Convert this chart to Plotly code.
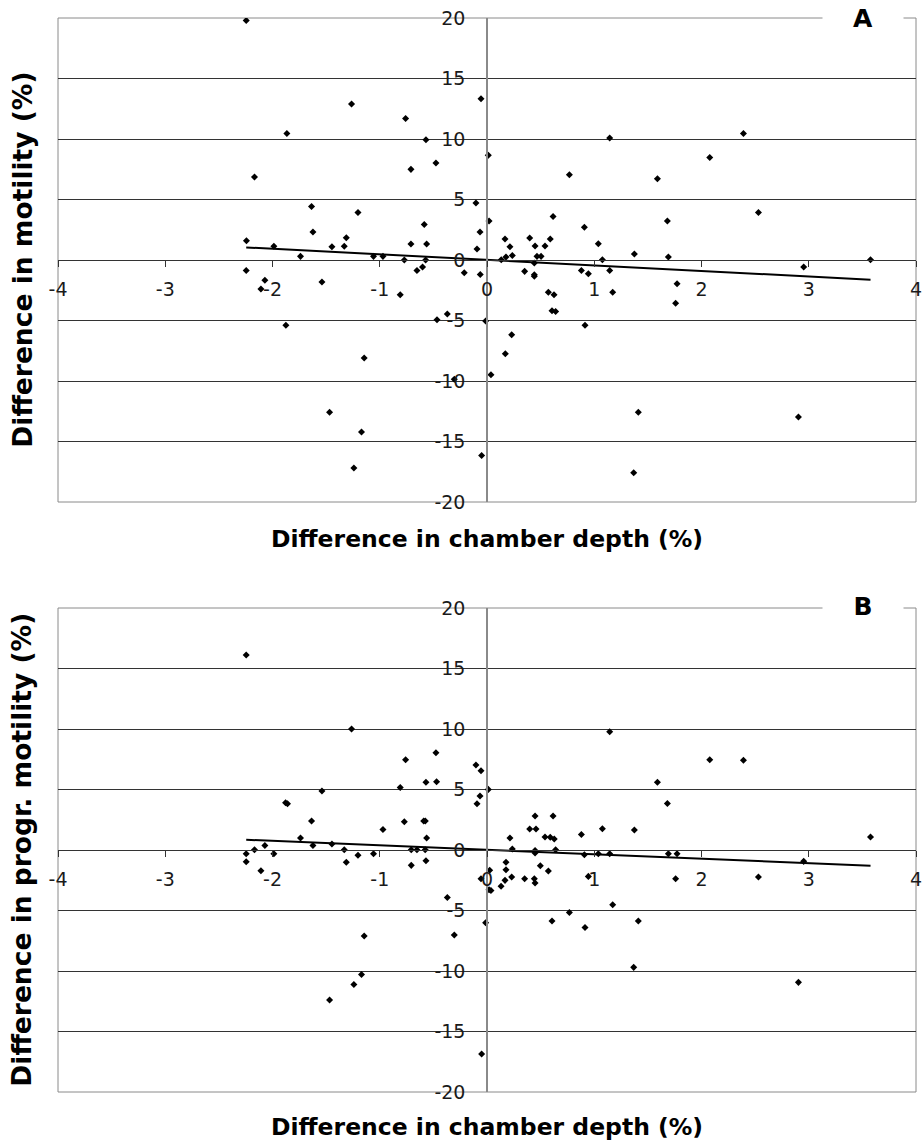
import plotly.graph_objects as go

# ---------------- data ----------------
a_x = [-2.245, -1.263, -1.866, -0.759, -0.569, -0.056, 0.012, -0.709, -0.476, -2.168,
       -1.636, -1.203, -0.103, 0.019, -0.585, -1.623, -0.065, -1.312, -2.243, -0.709,
       -0.563, -1.987, -1.446, -1.331, -0.093, -1.739, -1.058, -0.970, -0.771, -0.572,
       -2.245, -2.071, -2.108, -1.539, -0.809, -0.653, -0.601, -0.212, -0.063, -1.875,
       -0.466, -0.370, -0.013, -1.145, -0.305, 0.037, -1.468, -1.170, -1.241, -0.050,
       1.144, 2.391, 0.768, 2.077, 1.589, 2.531, 0.616, 1.682, 0.908, 0.168,
       0.398, 0.214, 0.448, 0.541, 0.590, 1.038, 1.374, 0.236, 1.691, 0.133,
       0.177, 0.466, 0.504, 0.441, 1.076, 3.576, 0.351, 0.441, 0.441, 0.880,
       0.945, 1.144, 2.953, 1.772, 1.759, 1.172, 0.572, 0.625, 0.606, 0.640,
       0.914, 0.230, 0.171, 1.411, 2.904, 1.368]
a_y = [19.8, 12.89, 10.46, 11.70, 9.94, 13.33, 8.65, 7.49, 8.02, 6.86,
       4.43, 3.93, 4.71, 3.22, 2.94, 2.31, 2.31, 1.84, 1.60, 1.32,
       1.32, 1.13, 1.10, 1.13, 0.91, 0.30, 0.30, 0.30, 0.0, 0.0,
       -0.86, -1.68, -2.40, -1.82, -2.87, -0.86, -0.58, -1.05, -1.19, -5.40,
       -4.93, -4.46, -5.04, -8.10, -9.86, -9.48, -12.59, -14.22, -17.19, -16.15,
       10.08, 10.46, 7.05, 8.48, 6.72, 3.93, 3.60, 3.22, 2.70, 1.73,
       1.82, 1.10, 1.15, 1.15, 1.73, 1.35, 0.49, 0.38, 0.25, 0.02,
       0.25, 0.30, 0.30, -0.25, 0.02, 0.02, -0.94, -1.21, -1.35, -0.86,
       -1.13, -0.86, -0.58, -1.96, -3.58, -2.67, -2.67, -2.87, -4.19, -4.25,
       -5.40, -6.17, -7.74, -12.59, -12.98, -17.58]

b_x = [-2.245, -1.263, -0.759, -0.476, -0.103, -0.056, 0.012, -0.809, -0.569, -0.470,
       -1.539, -0.065, -0.093, -1.878, -1.860, -1.636, -0.771, -0.590, -0.575, -0.970,
       -1.739, -0.563, -1.623, -1.446, -2.071, -2.168, -1.331, -2.245, -2.245, -1.987,
       -2.108, -1.312, -1.203, -1.058, -0.706, -0.653, -0.576, -0.706, -0.569, -0.056,
       0.019, -0.370, -0.013, -0.305, -1.145, -1.170, -1.241, -1.468, -0.050,
       1.144, 2.077, 2.391, 1.589, 1.682, 0.448, 0.616, 0.398, 0.457, 1.076,
       1.374, 0.880, 0.214, 0.541, 0.590, 0.627, 3.576, 0.236, 0.448, 0.448,
       0.640, 0.908, 1.038, 1.144, 1.691, 1.772, 2.953, 0.025, 0.037, 0.131,
       0.168, 0.177, 0.177, 0.230, 0.351, 0.441, 0.448, 0.497, 0.572, 0.945,
       1.759, 2.531, 1.172, 0.768, 0.606, 1.411, 0.914, 1.368, 2.904]
b_y = [16.11, 10.0, 7.46, 8.04, 7.02, 6.55, 5.01, 5.17, 5.59, 5.64,
       4.87, 4.46, 3.83, 3.90, 3.82, 2.40, 2.34, 2.40, 2.40, 1.70,
       0.99, 0.99, 0.38, 0.50, 0.38, 0.02, 0.02, -0.31, -0.97, -0.31,
       -1.71, -1.02, -0.44, -0.31, 0.02, 0.02, 0.02, -1.27, -0.88, -2.37,
       -3.28, -3.92, -6.01, -7.03, -7.11, -10.28, -11.11, -12.40, -16.86,
       9.78, 7.46, 7.41, 5.59, 3.85, 2.81, 2.81, 1.73, 1.73, 1.76,
       1.65, 1.29, 0.99, 1.07, 1.05, 0.91, 1.07, 0.08, -0.05, -0.25,
       0.02, -0.39, -0.31, -0.31, -0.31, -0.31, -0.94, -1.68, -3.34, -3.0,
       -2.51, -1.02, -1.63, -2.23, -2.37, -2.37, -2.73, -1.30, -1.74, -2.18,
       -2.37, -2.23, -4.52, -5.16, -5.87, -5.87, -6.40, -9.70, -10.94]

trend_x = [-2.245, 3.576]
trend_a_y = [1.04, -1.63]
trend_b_y = [0.85, -1.30]

x_ticks = [-4, -3, -2, -1, 0, 1, 2, 3, 4]
x_tick_text = ["-4", "-3", "-2", "-1", "0", "1", "2", "3", "4"]
y_ticks = [-20, -15, -10, -5, 0, 5, 10, 15, 20]
y_tick_text = ["-20", "-15", "-10", "-5", "0", "5", "10", "15", "20"]

panel_labels = ["A", "B"]
y_titles = ["Difference in motility (%)", "Difference in progr. motility (%)"]
x_title = "Difference in chamber depth (%)"

# ---------------- figure ----------------
H_TOTAL = 1074.0
domA = [590 / H_TOTAL, 1.0]
domB = [0.0, 484 / H_TOTAL]
FONT = "DejaVu Sans, Verdana, sans-serif"

fig = go.Figure()

marker = dict(symbol="diamond", size=5.4, color="black", line=dict(width=0))
fig.add_trace(go.Scatter(x=a_x, y=a_y, mode="markers", marker=marker,
                         xaxis="x", yaxis="y", showlegend=False, hoverinfo="skip"))
fig.add_trace(go.Scatter(x=trend_x, y=trend_a_y, mode="lines",
                         line=dict(color="black", width=2),
                         xaxis="x", yaxis="y", showlegend=False, hoverinfo="skip"))
fig.add_trace(go.Scatter(x=b_x, y=b_y, mode="markers", marker=marker,
                         xaxis="x2", yaxis="y2", showlegend=False, hoverinfo="skip"))
fig.add_trace(go.Scatter(x=trend_x, y=trend_b_y, mode="lines",
                         line=dict(color="black", width=2),
                         xaxis="x2", yaxis="y2", showlegend=False, hoverinfo="skip"))

tick_font = dict(family=FONT, size=19, color="#1a1a1a")


def xaxis_cfg(pos):
    return dict(range=[-4, 4], domain=[0, 1], anchor="free", position=pos,
                tickvals=x_ticks, ticktext=x_tick_text, ticks="outside", ticklen=6,
                tickcolor="#333", tickwidth=1, showline=True, linecolor="#333",
                linewidth=1, showgrid=False, zeroline=False, tickfont=tick_font,
                ticklabelstandoff=6, ticklabeloverflow="allow", automargin=False)


def yaxis_cfg(dom):
    return dict(range=[-20, 20], domain=dom, anchor="free", position=0.5,
                tickvals=y_ticks, ticktext=y_tick_text, ticks="", showline=True,
                linecolor="#8a8a8a", linewidth=1.5, showgrid=True, gridcolor="#333",
                gridwidth=1, zeroline=False, tickfont=tick_font, ticklabelstandoff=17,
                ticklabeloverflow="allow", automargin=False)


fig.update_layout(
    width=922, height=1144,
    margin=dict(l=58, r=6, t=18, b=52, autoexpand=False),
    paper_bgcolor="white", plot_bgcolor="white",
    xaxis=xaxis_cfg((domA[0] + domA[1]) / 2),
    yaxis=yaxis_cfg(domA),
    xaxis2=xaxis_cfg((domB[0] + domB[1]) / 2),
    yaxis2=yaxis_cfg(domB),
)

# plot-area frames
for xr, yr in [("x domain", "y domain"), ("x2 domain", "y2 domain")]:
    fig.add_shape(type="rect", xref=xr, yref=yr, x0=0, x1=1, y0=0, y1=1,
                  line=dict(color="#8a8a8a", width=1), layer="below")

title_font = dict(family=FONT, size=23.5, color="black")
ytitle_font = dict(family=FONT, size=26.5, color="black")

for i, (yr, dom) in enumerate([("y domain", domA), ("y2 domain", domB)]):
    xr = "x domain" if i == 0 else "x2 domain"
    # panel letter with white box breaking the top frame
    fig.add_annotation(text="<b>" + panel_labels[i] + "</b>", xref=xr, yref=yr,
                       x=(863 - 58) / 858, y=1, xanchor="center", yanchor="middle",
                       xshift=0, yshift=0 if i == 0 else 2,
                       showarrow=False, bgcolor="white", width=78, height=26,
                       font=dict(family=FONT, size=25, color="black"))
    # y title
    fig.add_annotation(text="<b>" + y_titles[i] + "</b>", xref="paper", yref=yr,
                       x=(21.7 - 58) / 858, y=0.5, xanchor="center", yanchor="middle",
                       textangle=-90, showarrow=False, font=ytitle_font)

# x titles
fig.add_annotation(text="<b>" + x_title + "</b>", xref="x domain", yref="paper",
                   x=0.5, y=(1092 - 539) / H_TOTAL, xanchor="center", yanchor="middle",
                   showarrow=False, font=title_font)
fig.add_annotation(text="<b>" + x_title + "</b>", xref="x2 domain", yref="paper",
                   x=0.5, y=(1092 - 1127) / H_TOTAL, xanchor="center", yanchor="middle",
                   showarrow=False, font=title_font)

fig.write_html("out.html")
